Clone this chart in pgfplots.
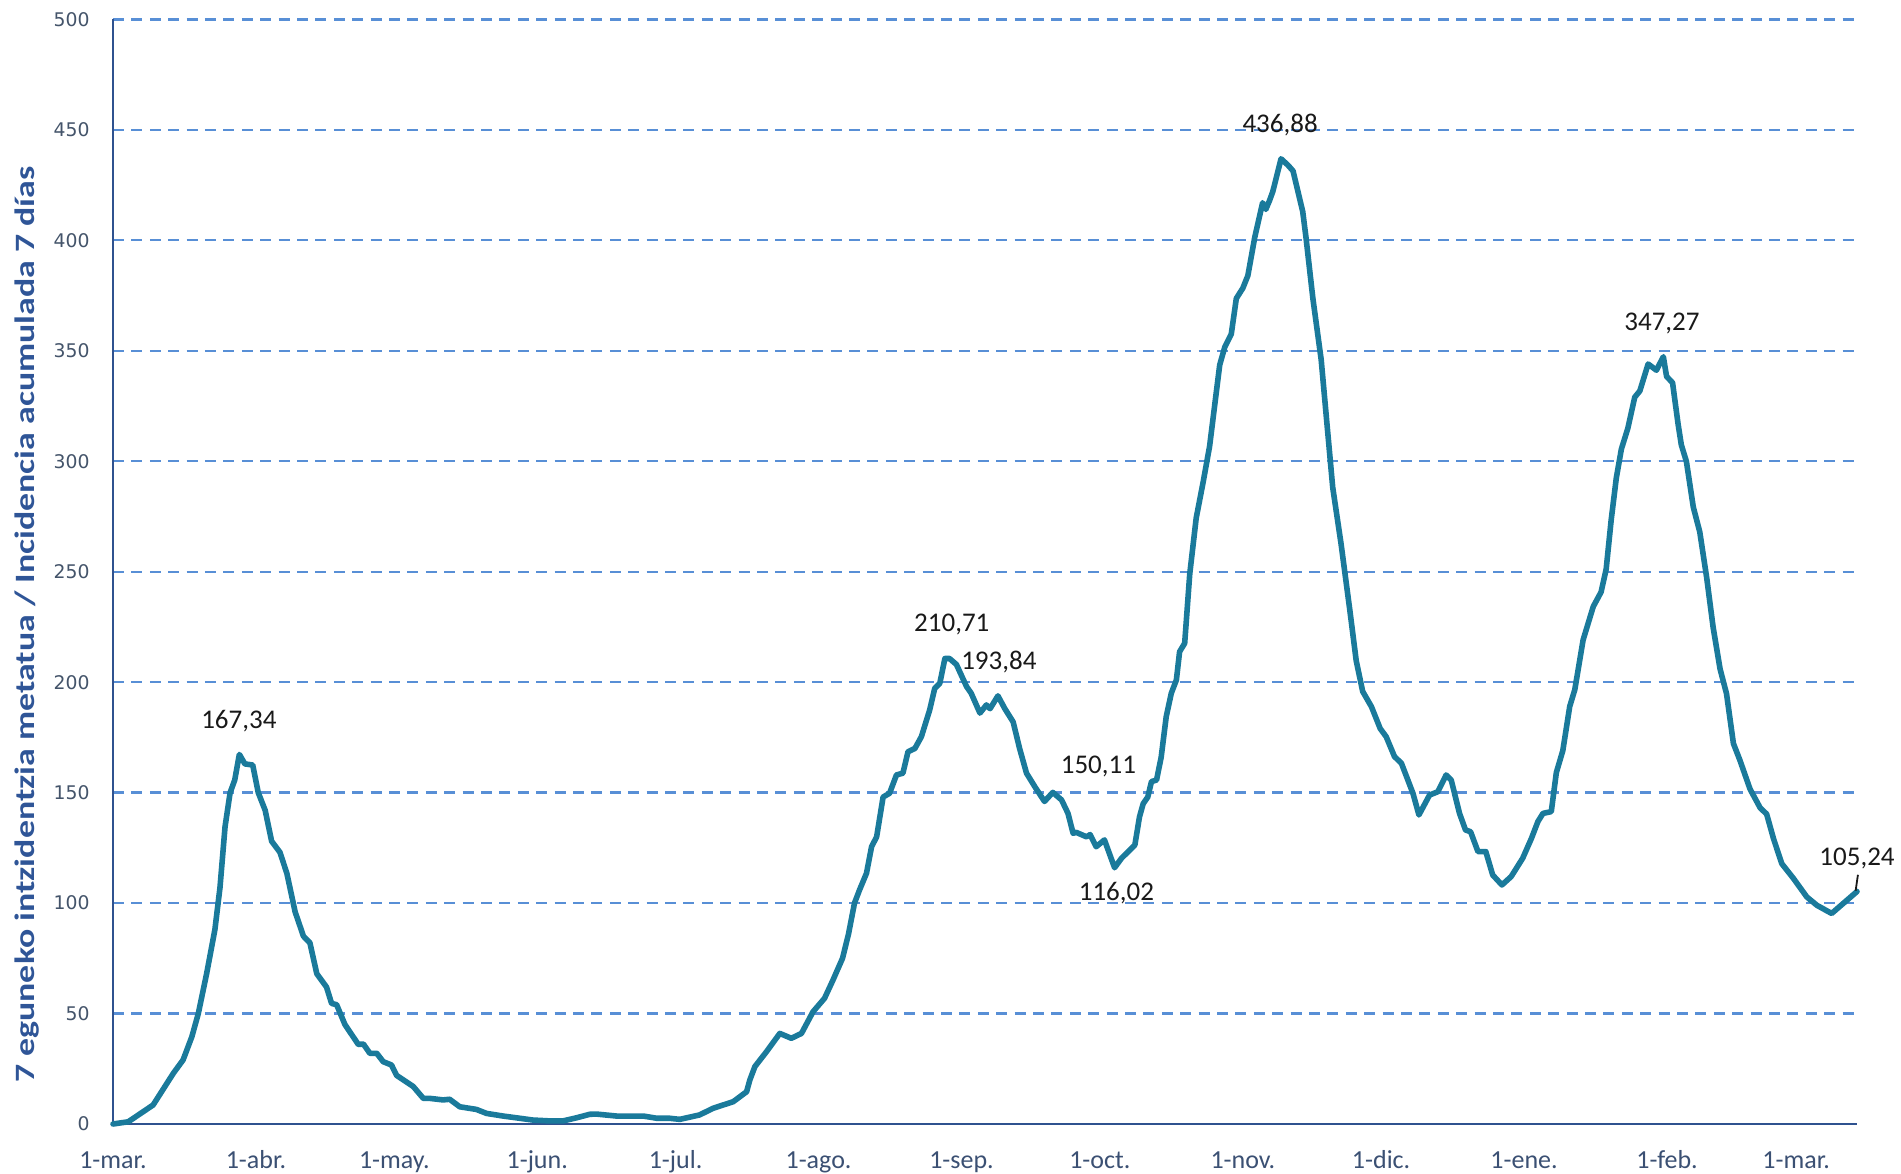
\documentclass[border=0pt]{standalone}
\usepackage{pgfplots}
\pgfplotsset{compat=1.18}
\usepackage{fontspec}
\setmainfont{Carlito}
\newfontfamily\tickfont{DejaVu Sans}
\newfontfamily\ylabfont[FakeStretch=1.28]{Carlito}
\definecolor{linec}{RGB}{26,122,155}
\definecolor{gridc}{RGB}{88,143,214}
\definecolor{axisc}{RGB}{47,82,143}
\definecolor{tickc}{RGB}{59,80,115}
\definecolor{ytickc}{RGB}{68,84,106}
\definecolor{ylabc}{RGB}{47,85,151}
\definecolor{annc}{RGB}{25,25,25}
\begin{document}
\begin{tikzpicture}
\begin{axis}[
  scale only axis, width=872pt, height=552.3pt,
  xmin=0, xmax=378.2, ymin=0, ymax=500,
  clip=false,
  axis x line*=bottom, axis y line*=left,
  axis line style={draw=axisc, line width=1.2pt},
  xtick={0,31,61,92,122,153,184,214,245,275,306,337,365},
  xticklabels={1-mar.,1-abr.,1-may.,1-jun.,1-jul.,1-ago.,1-sep.,1-oct.,1-nov.,1-dic.,1-ene.,1-feb.,1-mar.},
  ytick={0,50,...,500},
  major tick length=0pt,
  tick style={draw=none},
  ymajorgrids,
  grid style={draw=gridc, line width=1.15pt, dash pattern=on 5.5pt off 3.7pt},
  /pgf/number format/assume math mode=true,
  xticklabel style={font=\fontsize{13}{15}\selectfont, text=tickc, inner sep=0pt, text height=0.68em, text depth=0.2em, anchor=north, yshift=-15pt},
  yticklabel style={font=\tickfont\fontsize{9.4}{11}\selectfont, text=ytickc, inner sep=0pt, anchor=east, xshift=-11.5pt},
  every axis y label/.style={at={(axis description cs:-0.0493,0.452)}, rotate=90, anchor=center},
  ylabel={\ylabfont\bfseries\fontsize{14}{16}\selectfont\color{ylabc}7 eguneko intzidentzia metatua / Incidencia acumulada 7 días},
]
\addplot[color=linec, line width=2.8pt, line join=round, line cap=round] table {
x y
0 0
3.3 1
8.7 8.6
13.1 23
15.2 29
17.1 39.5
18.5 50
20.3 68
22.1 88
23.2 107
24.3 134.6
25.4 150
26.4 155.7
27.4 167.3
28.6 163
30.3 162.5
31.5 150
33 142
34.4 128
36.2 123
37.7 113.5
39.5 96
41.3 85
42.7 82
44.2 68
46.3 62
47.4 54.6
48.5 54
50.3 45
53.2 36
54.3 36.2
55.7 32
57.2 32
58.6 28.2
60.4 26.7
61.5 22
65.1 17
67.3 11.6
68.7 11.6
71.6 10.9
73 11.2
75.2 7.8
78.8 6.6
81 4.8
84.6 3.6
88.2 2.6
91 1.8
94.7 1.4
97.6 1.4
100.5 2.8
103.4 4.4
104.8 4.5
109.2 3.6
115 3.6
117.9 2.6
120.7 2.6
122.9 2.1
127.2 4.1
130.1 7.1
134.5 10.1
137.4 14.6
138.1 19.9
139.2 26
141.7 32.7
144.6 41
147.1 38.8
149.3 41
151.8 50.8
154.3 56.9
156.1 65
158.2 75
159.5 86
160.8 100
161.9 106
163.4 113.5
164.5 125.5
165.6 130
167 148
168.4 149.7
169.9 158
171.3 158.8
172.4 168.5
173.9 170
175.3 175.3
177.1 187.4
178.2 197.2
179.3 199.5
180.4 210.7
181.4 210.7
182.9 208
185.1 198
186.1 195
188 186
189.4 189.7
190.2 188
191.9 193.8
193.4 188
195.2 182
196.6 170
198.1 158.8
199.9 152.7
202 146
203.8 150.1
205.7 146.7
207.1 140.6
208.2 131.6
208.9 132
211.1 130
211.9 131
213.2 125.5
215 128.6
217.2 116
218.7 120.3
220.5 124
221.6 126.3
222.6 139
223.4 145
224.4 148
225.2 155
226.3 155.7
227.3 166
228.4 184.4
229.5 195
230.6 201
231.3 213.8
232.4 217.6
233.5 249
234.9 274.3
236.4 290.5
237.8 306.7
238.9 325.2
240.0 343.6
241.1 351.7
242.5 357.5
243.6 373.7
245.0 378.3
246.1 384
247.6 401.4
249.3 417
250.0 414
250.8 418
251.5 422
253.3 436.9
254.8 434
255.9 431.4
258.0 413
258.7 401.4
260.2 373.7
262.0 346
263.1 320.5
264.5 288.2
266.3 262.8
268.2 232.8
269.6 209.7
271.0 195.8
272.9 188.9
274.8 179
276.1 175.3
277.9 166.3
279.4 163.3
281.9 149.7
283.2 139.9
285.5 148.9
287.3 150.4
289.1 158
290.2 155.7
292 140.6
293.3 133.1
294.4 132.3
296 123.3
297.7 123.3
299.2 112.7
301.2 108.2
303.2 112
305.7 120.3
307.6 129.3
309 136.9
310.1 140.6
311.9 141.4
313 159.1
314.4 169
315.9 189
317 196.6
318.8 219.1
321 234.2
322.7 240.8
323.8 251.1
324.9 273.6
326 292.4
327.1 305.5
328.5 314.9
330 329
331.1 331.8
332.9 344
334.7 341.2
336.2 347.3
336.9 338.4
338.2 335.5
339.4 316.8
340.1 307.4
341.2 299.9
342.7 279.2
344.1 268
345.6 247.3
347 224.8
348.5 206
349.9 194.8
351.4 172.2
352.8 164.7
355 151.6
357.2 143.1
358.6 140.3
360.1 129.1
361.9 117.8
364.4 111.2
367.3 102.8
369.5 99
372.7 95.3
375.3 100
378.2 105.24
};
\begin{scope}[every node/.style={font=\fontsize{13.5}{16}\selectfont, text=annc, inner sep=0pt}]
\node at (axis cs:27.3,182.2) {167,34};
\node at (axis cs:181.9,226) {210,71};
\node at (axis cs:192.1,209) {193,84};
\node at (axis cs:213.7,162) {150,11};
\node at (axis cs:217.6,104.3) {116,02};
\node at (axis cs:253.1,452.3) {436,88};
\node at (axis cs:335.9,362.3) {347,27};
\node at (axis cs:378.2,120.2) {105,24};
\end{scope}
\draw[annc, line width=0.9pt] (axis cs:378.4,112.8) -- (axis cs:377.9,105.6);
\end{axis}
\pgfresetboundingbox
\useasboundingbox ([shift={(-56.5pt,-24.5pt)}]current axis.south west) rectangle ([shift={(22pt,9.7pt)}]current axis.north east);
\end{tikzpicture}
\end{document}
